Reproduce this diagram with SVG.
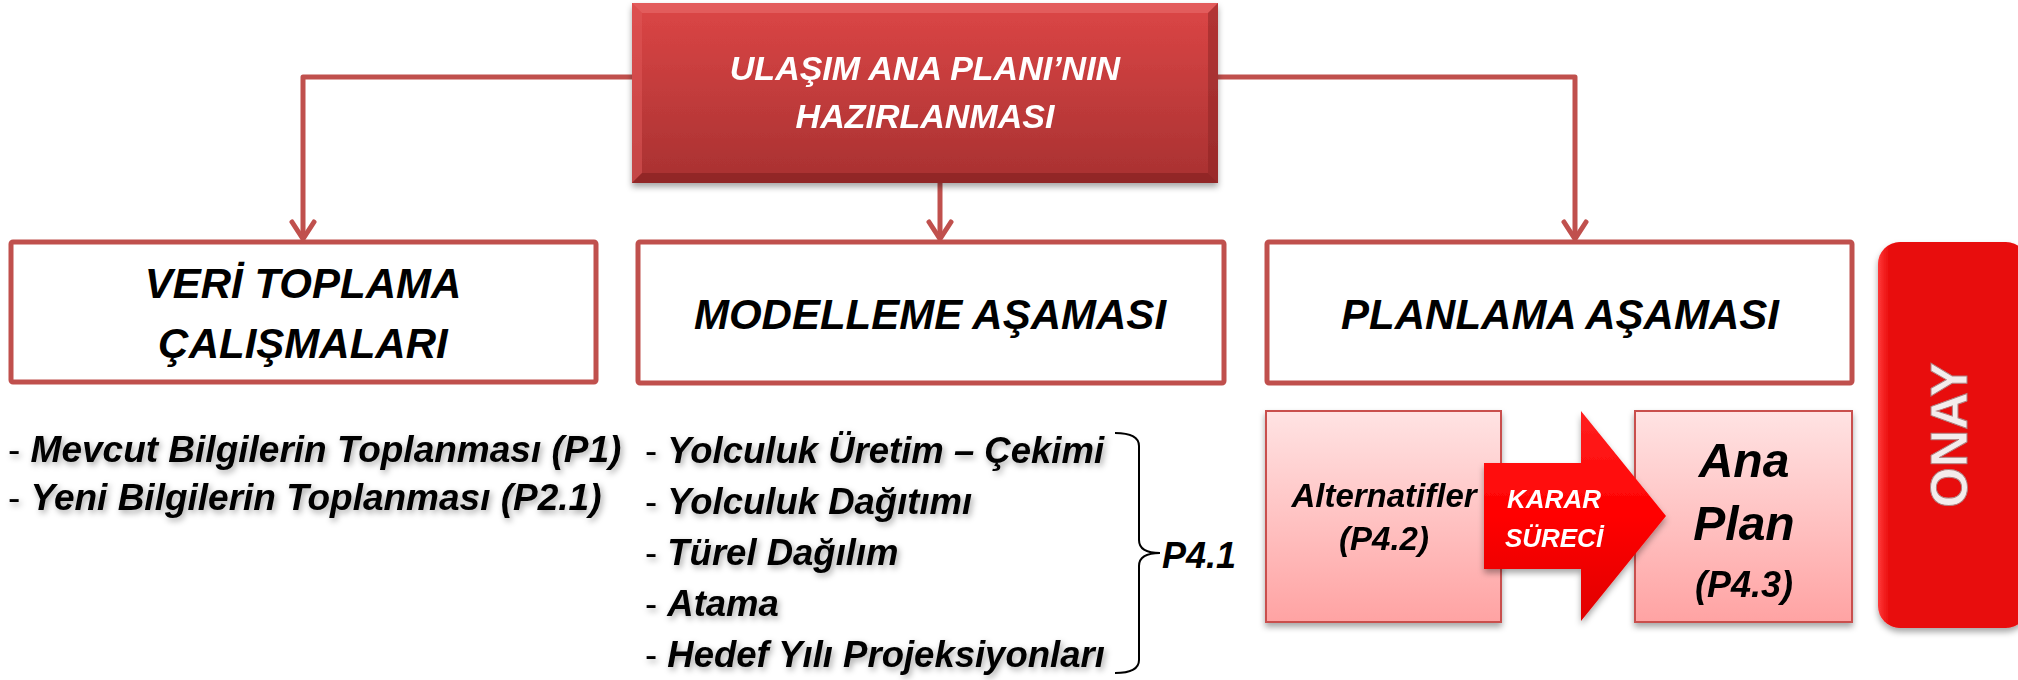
<svg xmlns="http://www.w3.org/2000/svg" width="2018" height="680" viewBox="0 0 2018 680">
<defs>
  <linearGradient id="gTop" x1="0" y1="0" x2="0" y2="1">
    <stop offset="0" stop-color="#dc4646"/>
    <stop offset="1" stop-color="#a83131"/>
  </linearGradient>
  <linearGradient id="gPink" x1="0" y1="0" x2="0" y2="1">
    <stop offset="0" stop-color="#ffe3e3"/>
    <stop offset="1" stop-color="#ffa3a3"/>
  </linearGradient>
  <linearGradient id="gArrow" x1="0" y1="0" x2="0" y2="1">
    <stop offset="0" stop-color="#ff2020"/>
    <stop offset="0.5" stop-color="#ff0000"/>
    <stop offset="1" stop-color="#e00000"/>
  </linearGradient>
  <linearGradient id="gOnay" x1="0" y1="0" x2="1" y2="0">
    <stop offset="0" stop-color="#ff3a3a"/>
    <stop offset="0.08" stop-color="#e80808"/>
    <stop offset="0.95" stop-color="#e80808"/>
    <stop offset="1" stop-color="#c80000"/>
  </linearGradient>
  <filter id="sh" x="-10%" y="-10%" width="120%" height="130%">
    <feDropShadow dx="0" dy="4" stdDeviation="3" flood-color="#000" flood-opacity="0.35"/>
  </filter>
  <filter id="tsh" x="-5%" y="-30%" width="110%" height="160%">
    <feDropShadow dx="2" dy="3" stdDeviation="3" flood-color="#000" flood-opacity="0.35"/>
  </filter>
  <style>
    .t { font-family: "Liberation Sans", Arial, sans-serif; font-weight: bold; font-style: italic; }
    .plain { font-weight: normal; font-style: normal; }
    .box { fill: #ffffff; stroke: #c0504d; stroke-width: 5; }
    .pink { fill: url(#gPink); stroke: #c9504d; stroke-width: 2; }
    .conn { fill: none; stroke: #c0504d; stroke-width: 5; stroke-linejoin: round; }
    .head { fill: none; stroke: #c0504d; stroke-width: 5; stroke-linecap: round; stroke-linejoin: round; }
  </style>
</defs>

<g id="connectors">
  <path class="conn" d="M632,77 H303 V238"/>
  <polyline class="head" points="292,222 303,239 314,222"/>
  <path class="conn" d="M1218,77 H1575 V238"/>
  <polyline class="head" points="1564,222 1575,239 1586,222"/>
  <path class="conn" d="M940,183 V238"/>
  <polyline class="head" points="929,222 940,239 951,222"/>
</g>

<g id="top-node" filter="url(#sh)">
  <rect x="632" y="3" width="586" height="180" fill="url(#gTop)"/>
  <polygon points="632,3 1218,3 1208,13 642,13" fill="#e86a6a" opacity="0.6"/>
  <polygon points="632,3 642,13 642,173 632,183" fill="#e05a5a" opacity="0.5"/>
  <polygon points="1218,3 1218,183 1208,173 1208,13" fill="#8a2424" opacity="0.5"/>
  <polygon points="632,183 642,173 1208,173 1218,183" fill="#7a1e1e" opacity="0.5"/>
  <text class="t" x="925" y="80" font-size="34" fill="#ffffff" text-anchor="middle">ULAŞIM ANA PLANI’NIN</text>
  <text class="t" x="925" y="128" font-size="34" fill="#ffffff" text-anchor="middle">HAZIRLANMASI</text>
</g>

<g id="veri-toplama">
  <rect class="box" x="11" y="242" width="585" height="140" rx="2"/>
  <text class="t" x="303" y="298" font-size="42" text-anchor="middle">VERİ TOPLAMA</text>
  <text class="t" x="303" y="358" font-size="42" text-anchor="middle">ÇALIŞMALARI</text>
</g>

<g id="modelleme">
  <rect class="box" x="638" y="242" width="586" height="141" rx="2"/>
  <text class="t" x="930" y="329" font-size="42" text-anchor="middle">MODELLEME AŞAMASI</text>
</g>

<g id="planlama">
  <rect class="box" x="1267" y="242" width="585" height="141" rx="2"/>
  <text class="t" x="1560" y="329" font-size="42" text-anchor="middle">PLANLAMA AŞAMASI</text>
</g>

<g id="veri-list" filter="url(#tsh)">
  <text class="t" x="8" y="462" font-size="37"><tspan class="plain">- </tspan>Mevcut Bilgilerin Toplanması (P1)</text>
  <text class="t" x="8" y="510" font-size="37"><tspan class="plain">- </tspan>Yeni Bilgilerin Toplanması (P2.1)</text>
</g>

<g id="model-list" filter="url(#tsh)">
  <text class="t" x="645" y="463" font-size="36.5"><tspan class="plain">- </tspan>Yolculuk Üretim – Çekimi</text>
  <text class="t" x="645" y="514" font-size="36.5"><tspan class="plain">- </tspan>Yolculuk Dağıtımı</text>
  <text class="t" x="645" y="565" font-size="36.5"><tspan class="plain">- </tspan>Türel Dağılım</text>
  <text class="t" x="645" y="616" font-size="36.5"><tspan class="plain">- </tspan>Atama</text>
  <text class="t" x="645" y="667" font-size="36.5"><tspan class="plain">- </tspan>Hedef Yılı Projeksiyonları</text>
</g>

<g id="p41">
  <path d="M1115,433 Q1139,433 1139,446 L1139,540 Q1139,553 1160,553 Q1139,553 1139,566 L1139,660 Q1139,673 1115,673" fill="none" stroke="#000" stroke-width="2"/>
  <text class="t" x="1162" y="568" font-size="36">P4.1</text>
</g>

<g id="alternatifler" filter="url(#sh)">
  <rect class="pink" x="1266" y="411" width="235" height="211"/>
  <text class="t" x="1384" y="507" font-size="33" text-anchor="middle">Alternatifler</text>
  <text class="t" x="1384" y="550" font-size="33" text-anchor="middle">(P4.2)</text>
</g>

<g id="ana-plan" filter="url(#sh)">
  <rect class="pink" x="1635" y="411" width="217" height="211"/>
  <text class="t" x="1744" y="477" font-size="48" text-anchor="middle">Ana</text>
  <text class="t" x="1744" y="540" font-size="48" text-anchor="middle">Plan</text>
  <text class="t" x="1744" y="597" font-size="36" text-anchor="middle">(P4.3)</text>
</g>

<g id="karar-sureci" filter="url(#sh)">
  <polygon points="1484,463 1581,463 1581,411 1666,516 1581,621 1581,569 1484,569" fill="url(#gArrow)"/>
  <text class="t" x="1554" y="508" font-size="26" fill="#ffffff" text-anchor="middle">KARAR</text>
  <text class="t" x="1554" y="547" font-size="26" fill="#ffffff" text-anchor="middle">SÜRECİ</text>
</g>

<g id="onay" filter="url(#sh)">
  <rect x="1878" y="242" width="150" height="386" rx="22" fill="url(#gOnay)"/>
  <text x="1967" y="435" font-family="'Liberation Sans', Arial, sans-serif" font-weight="bold" font-size="52" fill="#f4ecec" stroke="#b08080" stroke-width="1" text-anchor="middle" transform="rotate(-90 1967 435)">ONAY</text>
</g>
</svg>
